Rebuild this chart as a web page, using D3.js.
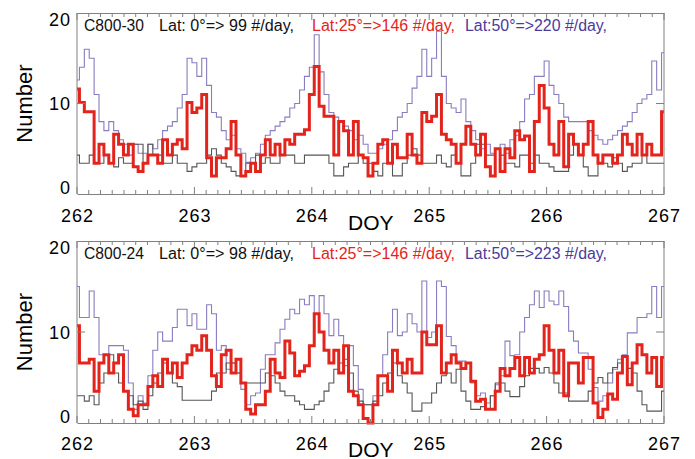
<!DOCTYPE html>
<html>
<head>
<meta charset="utf-8">
<title>C800 hourly counts vs DOY</title>
<script src="https://d3js.org/d3.v7.min.js"></script>
<style>
  body { margin: 0; background: #fff; }
  text { font-family: "Liberation Sans", Arial, sans-serif; }
</style>
</head>
<body>
<div id="chart"></div>
<script>
// hourly values, 262.00 .. 267.00 (121 points, one per hour)
var dayTicks = [262, 263, 264, 265, 266, 267];
var yTicks = [0, 10, 20];
var binsPerDay = 24;

var p1Black = [4.3,3.4,3.4,4.3,3.4,3.4,4.3,3.4,3,4,
  3.4,3.4,5.5,5.5,3.4,5.5,4.3,4.3,3.4,3.4,
  4.3,3.4,3.4,2.5,3,3.4,3.4,4.3,5,4.3,
  3.4,3,2.5,2,2,3.4,3.4,4.3,3.4,4,
  3.4,3.4,4.3,4.3,4.3,3.4,3.4,4.3,4.3,4.3,
  4.3,4.3,3.4,2,2,3,3.4,3.4,4.3,3.4,
  3.4,2.5,2,3.4,3.4,2,2,3.4,4.3,5,
  4.3,3.4,3.4,3.4,4.3,3.4,3,4.3,3.4,2,
  2,3.4,5.5,5.5,4.3,4.3,5,4.3,3.4,3.4,
  3,4.3,4.3,3.4,4.3,3.4,3.4,3,2.5,2.5,
  2.5,4.3,5.5,4.3,3,2,2,3.4,3.4,3,
  4,3.4,2.5,3,3.4,3.4,4.3,3.4,3.4,3.4,
  3.4];
var p1Red = [11.6,10.1,9.1,9.1,3.4,5.5,4.3,3.4,6.6,5.5,
  4.3,5.5,3,2.5,3.4,4.3,4.3,3.4,6,4.3,
  5.5,6,5,10.1,9,9.5,11,4,2,4,
  4,5,8,4.3,2,2.5,3.4,2.5,4.3,6,
  4.3,5.5,4.3,6,5.5,6.6,6.6,7.1,11,14.1,
  9.7,8.6,8.6,4.3,8,7,4.3,8,4.3,4,
  2,3.4,5.5,6,3.4,5.5,4,4,6.6,4.3,
  3.4,9,8,8.6,11,6.6,6,5.5,3.4,5.5,
  7.5,5.5,4.3,6.6,3,2,5,2.5,5,4,
  7,6,6.4,2.5,8,12,9.5,5.5,4.3,8,
  3,6.6,5.5,4.3,5.5,8,4.3,3.4,4.3,4.3,
  3.4,4.3,6.6,5.5,4.3,6.6,4.3,5.5,4.3,4.3,
  9.1];
var p1Purple = [12.6,14,16,15,11,8,7,8,7,6,
  5.5,4.3,5.5,4.5,4.5,5.5,5,6,7,7.5,
  8,9.5,11,15,14.5,13,15,12,9,8.5,
  7,6,6.5,5,4.5,3.5,4,4.5,5.5,6.5,
  7,7.5,8,8.5,9.5,10,11.5,13,14,17.6,
  13.5,11,9,8.5,8,7.5,7,6,6.5,5.5,
  4.5,4.5,5,5.5,6,7,8.5,9,10,11.7,
  13,16,13,15,18,13,10,9.5,9,10.5,
  8,7,6,5,5.5,4.5,5,5.5,4.5,6,
  6.5,8,10.5,11,13,13,14.7,12,11,10,
  8.5,8,8,8,8,7,6.5,6,5.5,6,
  6.5,7,7.5,8,9,10,10.5,11,14.7,11.5,
  15.6];

var p2Black = [3,3,2.4,3,2,4.4,5.5,7.5,5.5,4.4,
  3.5,3,2,2.4,1.5,3,4.4,5.5,6.6,5.5,
  4.4,4,2.5,2.5,2.5,2.5,2.5,2.5,3.5,5.5,
  5.5,6.6,6.6,5.5,4.4,4.4,4.4,4.4,4.4,5.5,
  5.2,4.4,3.5,3,3,2.4,2,1.5,1.5,2,
  2.4,3.5,4.4,5.9,6.6,7,5.5,3.5,2.4,2,
  2,2.4,3,4.4,5.5,6.6,5.2,4.4,3.3,1.3,
  1.3,2.2,2.2,3.3,4.4,5.2,5.5,4.4,5.9,3.5,
  2.4,1.5,1.5,1.8,1.5,3,4.4,4.4,3.5,2.9,
  2.9,4,5.2,6,6,5.5,6.1,5.5,4.4,3.3,
  3.3,2.4,2.4,2.4,2.4,3.5,4.4,5,4.4,5.5,
  6.1,6.6,7.2,6,5.5,3.5,2,1.3,1.3,1.3,
  3.5];
var p2Red = [10.7,6.6,6.6,7,3.5,6.6,7.5,5.5,6.6,7.5,
  3.5,1.5,0.8,2,2,4,5.2,4,7,5.5,
  6.6,5,6.6,7.5,8.5,8,9.6,8,5.2,4,
  7.5,8,5.5,7,4.4,1.5,1,2,2,3.5,
  7,5.5,5,9,7.7,5.2,5.7,6.3,8.5,12,
  10,8,6.6,8,5.5,8.5,3.5,3,2,0.5,
  0,2,5.2,5.2,3.5,8,6.6,5.5,7,5.5,
  5.5,10,8.6,8.6,10.7,5.5,6.6,7.5,6.6,6,
  6.6,4.6,2.4,2.6,1.5,1.5,3.5,6,5.2,6,
  7.2,5.2,7.2,5.5,7,7.5,10.7,8,5.5,8,
  3,6.6,6.6,4.4,7.2,7.2,2.2,0.6,1.5,3.2,
  2.6,5.5,7.3,4.2,6.6,8.6,7.5,5.5,7.2,4,
  7.2];
var p2Purple = [15,11.6,11.6,14.5,11.6,7.5,7.5,8.5,8.5,8.5,
  8,4.4,1.5,3,2.2,5.2,8,10,9,9,
  10.5,12.5,12.5,10.7,12,10.3,10.3,13,12,8,
  8.5,5.9,6.6,5.5,3.7,2,3,3.3,5.9,7.5,
  7.5,8.8,10.3,11.4,12.5,12,13.6,13,14,12,
  14,12,9.6,11.4,9.6,6.3,8.5,6.3,3.7,2,
  2,3,5.2,7.5,10,12.5,9.6,10,12,10.9,
  10,15.6,9.4,10,15.6,15,9.5,8.5,6.8,6.8,
  6.6,4.4,3,3.3,2.2,3,4.2,5.2,9,7.4,
  7.5,10,11.6,13,14.5,12.7,14.5,13.4,13,14.5,
  12.8,10.1,9,7.7,7.7,5.9,3.9,2.4,3,4.4,
  5.9,7,7.5,9.9,9.9,11.6,11.6,12,15,11.6,
  15];

var p1Labels = ["C800-30", "Lat: 0\u00b0=> 99 #/day,", "Lat:25\u00b0=>146 #/day,", "Lat:50\u00b0=>220 #/day,"];
var p2Labels = ["C800-24", "Lat: 0\u00b0=> 98 #/day,", "Lat:25\u00b0=>146 #/day,", "Lat:50\u00b0=>223 #/day,"];

var W = 695, H = 459;
var left = 77, right = 664;
var axisColor = "#808080";
var colBlack = "#555555", colRed = "#e3241d", colPurple = "#8a7cc0";
var txtBlack = "#111111", txtRed = "#e3241d", txtPurple = "#4a3a9c";

var svg = d3.select("#chart").append("svg")
  .attr("width", W).attr("height", H);

var x = d3.scaleLinear().domain([262, 267]).range([left, right]);

function drawPanel(top, bottom, black, red, purple, labels, labelX, textBase, tickBase, doyBase) {
  var y = d3.scaleLinear().domain([0, 20]).range([bottom, top]);
  var g = svg.append("g");

  var line = d3.line()
    .x(function(d, i) { return x(262 + i / binsPerDay); })
    .y(function(d) { return y(d); })
    .curve(d3.curveStep);

  g.append("path").datum(purple).attr("fill", "none")
    .attr("stroke", colPurple).attr("stroke-width", 1.1).attr("d", line);
  g.append("path").datum(black).attr("fill", "none")
    .attr("stroke", colBlack).attr("stroke-width", 1.1).attr("d", line);
  g.append("path").datum(red).attr("fill", "none")
    .attr("stroke", colRed).attr("stroke-width", 3).attr("d", line);

  // bottom and top axes with minor ticks every 0.1 day
  var minor = d3.range(0, 51).map(function(i) { return 262 + i / 10; });
  g.append("g")
    .attr("transform", "translate(0," + bottom + ")")
    .call(d3.axisBottom(x).tickValues(minor).tickSize(0).tickFormat(""))
    .call(function(a) { a.select(".domain").attr("stroke", axisColor); });
  g.append("g")
    .attr("transform", "translate(0," + top + ")")
    .call(d3.axisTop(x).tickValues(minor).tickSize(0).tickFormat(""))
    .call(function(a) { a.select(".domain").attr("stroke", axisColor); });

  minor.forEach(function(v) {
    var isMajor = Math.abs(v - Math.round(v)) < 1e-6;
    var len = isMajor ? 7 : 4;
    g.append("line").attr("x1", x(v)).attr("x2", x(v))
      .attr("y1", bottom).attr("y2", bottom - len).attr("stroke", axisColor);
    g.append("line").attr("x1", x(v)).attr("x2", x(v))
      .attr("y1", top).attr("y2", top + len).attr("stroke", axisColor);
  });

  // left and right box sides
  g.append("line").attr("x1", left).attr("x2", left).attr("y1", top).attr("y2", bottom).attr("stroke", axisColor);
  g.append("line").attr("x1", right).attr("x2", right).attr("y1", top).attr("y2", bottom).attr("stroke", axisColor);
  g.append("line").attr("x1", left).attr("x2", left + 8).attr("y1", y(10)).attr("y2", y(10)).attr("stroke", axisColor);
  g.append("line").attr("x1", right - 8).attr("x2", right).attr("y1", y(10)).attr("y2", y(10)).attr("stroke", axisColor);

  // y tick labels (IDL nudges the end labels inside the box)
  yTicks.forEach(function(v) {
    var base = v === 0 ? bottom : (v === 20 ? top + 12.5 : y(v) + 6.5);
    g.append("text").attr("x", 71).attr("y", base)
      .attr("text-anchor", "end").style("font-size", "18px").style("letter-spacing", "1px")
      .text(v);
  });

  dayTicks.forEach(function(v) {
    g.append("text").attr("x", x(v) + 0.5).attr("y", tickBase)
      .attr("text-anchor", "middle").style("font-size", "18px").style("letter-spacing", "1px")
      .text(v);
  });

  g.append("text").attr("x", 348).attr("y", doyBase)
    .style("font-size", "21px").text("DOY");

  g.append("text")
    .attr("transform", "translate(32," + ((top + bottom) / 2) + ") rotate(-90)")
    .attr("text-anchor", "middle").style("font-size", "22px").text("Number");

  var cols = [txtBlack, txtBlack, txtRed, txtPurple];
  var widths = [60, 135, 143, 142];
  labels.forEach(function(t, i) {
    g.append("text").attr("x", labelX[i]).attr("y", textBase)
      .style("font-size", "16px").attr("fill", cols[i])
      .attr("textLength", widths[i]).attr("lengthAdjust", "spacingAndGlyphs")
      .text(t);
  });
}

drawPanel(13, 194, p1Black, p1Red, p1Purple, p1Labels, [84, 159, 312, 465], 30.5, 222, 230);
drawPanel(241, 423, p2Black, p2Red, p2Purple, p2Labels, [84, 159, 312, 465], 258.5, 450, 457);
</script>
</body>
</html>
